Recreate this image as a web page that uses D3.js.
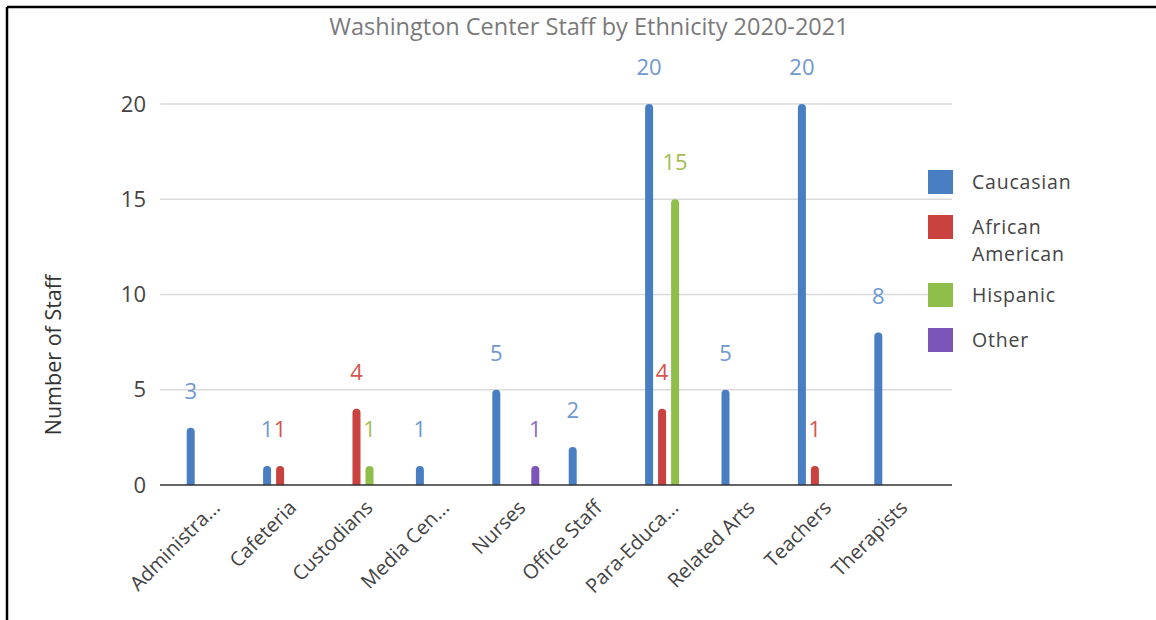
<!DOCTYPE html>
<html>
<head>
<meta charset="utf-8">
<script src="https://cdn.jsdelivr.net/npm/d3@7"></script>
<style>
  html, body { margin: 0; padding: 0; background: #fff; }
  svg { display: block; font-family: "Open Sans", sans-serif; }
</style>
</head>
<body>
<svg id="chart" width="1156" height="620"></svg>
<script>
// Staff counts per department, one array per ethnicity group
const categories = ["Administra...", "Cafeteria", "Custodians", "Media Cen...", "Nurses",
                    "Office Staff", "Para-Educa...", "Related Arts", "Teachers", "Therapists"];
const seriesNames = ["Caucasian", "African American", "Hispanic", "Other"];
const caucasian       = [3, 1, 0, 1, 5, 2, 20, 5, 20, 8];
const africanAmerican = [0, 1, 4, 0, 0, 0, 4, 0, 1, 0];
const hispanic        = [0, 0, 1, 0, 0, 0, 15, 0, 0, 0];
const other           = [0, 0, 0, 0, 1, 0, 0, 0, 0, 0];
const yTicks = [0, 5, 10, 15, 20];

const seriesValues = [caucasian, africanAmerican, hispanic, other];
const barColors   = ["#4a7ec2", "#c9423f", "#8fbf4a", "#7c55b8"];
const labelColors = ["#6f98cf", "#d4564f", "#a2bd52", "#8a6cc0"];

const svg = d3.select("#chart");

// page frame
svg.append("line").attr("x1", 7).attr("x2", 1156).attr("y1", 7).attr("y2", 7)
  .attr("stroke", "#000").attr("stroke-width", 2.5);
svg.append("line").attr("x1", 7).attr("x2", 7).attr("y1", 7).attr("y2", 620)
  .attr("stroke", "#000").attr("stroke-width", 2.5);

const plotLeft = 160, plotRight = 952;
const x0 = d3.scaleBand().domain(categories).range([172, 936]);
const x1 = d3.scaleBand().domain(seriesNames).range([-26, 26]);
const y = d3.scaleLinear().domain([0, 20]).range([485, 104]);
const bw = 8;

// title
svg.append("text").attr("x", 589).attr("y", 35).attr("text-anchor", "middle")
  .attr("font-size", 23.5).attr("fill", "#7a7a7a")
  .text("Washington Center Staff by Ethnicity 2020-2021");

// gridlines
svg.append("g").selectAll("line").data(yTicks.filter(d => d > 0)).join("line")
  .attr("x1", plotLeft).attr("x2", plotRight)
  .attr("y1", d => y(d)).attr("y2", d => y(d))
  .attr("stroke", "#dadada").attr("stroke-width", 1.5);

// y axis tick labels
const yAxis = d3.axisLeft(y).tickValues(yTicks).tickSize(0).tickPadding(0);
const yg = svg.append("g").attr("transform", `translate(146,0)`).call(yAxis);
yg.select(".domain").remove();
yg.selectAll("text").attr("font-size", 22).attr("fill", "#444")
  .attr("font-family", "Open Sans, sans-serif");

// y axis title
svg.append("text")
  .attr("transform", "translate(61,355) rotate(-90)")
  .attr("text-anchor", "middle").attr("font-size", 21.5).attr("fill", "#333")
  .text("Number of Staff");

// bars with rounded tops
const barData = [];
seriesValues.forEach((vals, si) => {
  vals.forEach((v, ci) => {
    if (v > 0) barData.push({ cat: categories[ci], s: seriesNames[si], si, v });
  });
});
const barCenter = d => x0(d.cat) + x0.bandwidth() / 2 + x1(d.s) + x1.bandwidth() / 2;
function barPath(d) {
  const left = barCenter(d) - bw / 2;
  const top = y(d.v), base = y(0), r = bw / 2;
  return `M${left},${base}V${top + r}A${r},${r} 0 0 1 ${left + bw},${top + r}V${base}Z`;
}
svg.append("g").selectAll("path").data(barData).join("path")
  .attr("d", barPath).attr("fill", d => barColors[d.si]);

// baseline
svg.append("line").attr("x1", plotLeft).attr("x2", plotRight)
  .attr("y1", y(0)).attr("y2", y(0)).attr("stroke", "#333").attr("stroke-width", 1.5);

// value labels
svg.append("g").selectAll("text").data(barData).join("text")
  .attr("x", barCenter)
  .attr("y", d => y(d.v) - 29)
  .attr("text-anchor", "middle").attr("font-size", 22)
  .attr("fill", d => labelColors[d.si])
  .text(d => d.v);

// category labels
svg.append("g").selectAll("text").data(categories).join("text")
  .attr("transform", d => `translate(${x0(d) + x0.bandwidth() / 2 + 11},${509}) rotate(-45)`)
  .attr("text-anchor", "end").attr("font-size", 20).attr("fill", "#444")
  .text(d => d);

// legend
const legendRows = [
  { name: "Caucasian", lines: ["Caucasian"], y: 170 },
  { name: "African American", lines: ["African", "American"], y: 215 },
  { name: "Hispanic", lines: ["Hispanic"], y: 283 },
  { name: "Other", lines: ["Other"], y: 328 }
];
const lg = svg.append("g").selectAll("g").data(legendRows).join("g");
lg.append("rect").attr("x", 928).attr("y", d => d.y).attr("width", 25).attr("height", 24)
  .attr("fill", (d, i) => barColors[i]);
lg.each(function (d) {
  const t = d3.select(this).append("text").attr("font-size", 19.5)
    .attr("letter-spacing", 0.8).attr("fill", "#444");
  d.lines.forEach((ln, k) => {
    t.append("tspan").attr("x", 972).attr("y", d.y + 19 + k * 26.8).text(ln);
  });
});
</script>
</body>
</html>
